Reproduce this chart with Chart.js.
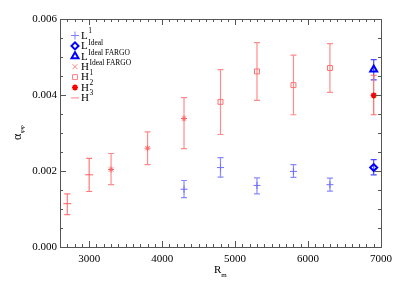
<!DOCTYPE html>
<html>
<head>
<meta charset="utf-8">
<script src="https://cdn.jsdelivr.net/npm/chart.js@4.4.1/dist/chart.umd.min.js"></script>
<style>
  html, body { margin: 0; padding: 0; background: #fff; }
  #wrap { width: 399px; height: 285px; }
</style>
</head>
<body>
<div id="wrap"><canvas id="graph" width="399" height="285"></canvas></div>
<script>
// L^1 runs
var l1X = [4300, 4800, 5300, 5800, 6300];
var l1Y = [0.00152, 0.00209, 0.00162, 0.00199, 0.00164];
var l1Lo = [0.00130, 0.00184, 0.00140, 0.00183, 0.00147];
var l1Hi = [0.00175, 0.00235, 0.00182, 0.00217, 0.00181];

// L ideal
var lIdX = [6900];
var lIdY = [0.00209];
var lIdLo = [0.00190];
var lIdHi = [0.00230];

// L ideal FARGO
var lFaX = [6900];
var lFaY = [0.00467];
var lFaLo = [0.00440];
var lFaHi = [0.00493];

// H ideal FARGO (pale stars)
var hFaX = [3300, 3800, 4300];
var hFaY = [0.00204, 0.00260, 0.00338];
var hFaLo = [0.00164, 0.00217, 0.00259];
var hFaHi = [0.00246, 0.00303, 0.00393];

// H^1
var h1X = [4800, 5300, 5800, 6300];
var h1Y = [0.00382, 0.00462, 0.00426, 0.00471];
var h1Lo = [0.00296, 0.00386, 0.00348, 0.00407];
var h1Hi = [0.00467, 0.00538, 0.00505, 0.00535];

// H^2
var h2X = [6900];
var h2Y = [0.00399];
var h2Lo = [0.00348];
var h2Hi = [0.00452];

// H^3
var h3X = [2700, 3000];
var h3Y = [0.00114, 0.00190];
var h3Lo = [0.00085, 0.00146];
var h3Hi = [0.00140, 0.00233];

var xMajor = [3000, 4000, 5000, 6000, 7000];
var yMajor = [0, 0.002, 0.004, 0.006];

var legendBase = ['L', 'L', 'L', 'H', 'H', 'H', 'H'];
var legendSuffix = ['1', 'Ideal', 'Ideal FARGO', 'Ideal FARGO', '1', '2', '3'];

function pts(xs, ys) {
	return xs.map((x, i) => ({ x: x, y: ys[i] }));
}

var serif = "'Liberation Serif', 'Times New Roman', Times, serif";
Chart.defaults.font.family = serif;
Chart.defaults.font.size = 11;
Chart.defaults.color = '#000';

const ctx = document.getElementById('graph').getContext('2d');

// legend symbols as seen in the figure
var legendSym = [
	{ style: 'cross', color: '#8080ff', r: 4, w: 1 },
	{ style: 'rectRot', color: '#0000ff', r: 3.5, w: 2 },
	{ style: 'triangle', color: '#0000ff', r: 4, w: 2 },
	{ style: 'crossRot', color: '#ff8080', r: 3.5, w: 1 },
	{ style: 'rect', color: '#ff8080', r: 3.5, w: 1 },
	{ style: 'star', color: '#ff0000', r: 3, w: 1.6 },
	{ style: 'line', color: '#ff8080', r: 4, w: 1 }
];

const decor = {
	id: 'decor',
	beforeDatasetsDraw(chart) {
		const c = chart.ctx;
		const xs = chart.scales.x, ys = chart.scales.y;
		chart.data.datasets.forEach(ds => {
			c.save();
			c.strokeStyle = ds.errColor;
			c.lineWidth = 1.2;
			ds.data.forEach((p, j) => {
				const px = xs.getPixelForValue(p.x);
				const yl = ys.getPixelForValue(ds.lo[j]);
				const yh = ys.getPixelForValue(ds.hi[j]);
				c.beginPath();
				c.moveTo(px, yl); c.lineTo(px, yh);
				c.moveTo(px - 3, yl); c.lineTo(px + 3, yl);
				c.moveTo(px - 3, yh); c.lineTo(px + 3, yh);
				c.stroke();
			});
			c.restore();
		});
	},
	afterDraw(chart) {
		const c = chart.ctx;
		const a = chart.chartArea;
		const xs = chart.scales.x, ys = chart.scales.y;
		c.save();
		c.strokeStyle = '#555';
		c.lineWidth = 1;
		c.strokeRect(a.left + 0.5, a.top + 0.5, a.right - a.left, a.bottom - a.top);

		// inward ticks, all four sides
		c.beginPath();
		for (var v = 2600; v <= 7000; v += 100) {
			var px = Math.round(xs.getPixelForValue(v)) + 0.5;
			var len = (v % 1000 === 0) ? 6 : 3;
			c.moveTo(px, a.bottom); c.lineTo(px, a.bottom - len);
			c.moveTo(px, a.top); c.lineTo(px, a.top + len);
		}
		for (var k = 0; k <= 12; k++) {
			var val = k * 0.0005;
			var py = Math.round(ys.getPixelForValue(val)) + 0.5;
			var l2 = (k % 4 === 0) ? 6 : 3;
			c.moveTo(a.left, py); c.lineTo(a.left + l2, py);
			c.moveTo(a.right, py); c.lineTo(a.right - l2, py);
		}
		c.stroke();

		// legend
		c.textBaseline = 'middle';
		c.textAlign = 'left';
		legendBase.forEach((b, i) => {
			var y = 35.5 + i * 10.4;
			var s = legendSym[i];
			c.strokeStyle = s.color;
			c.fillStyle = 'rgba(0,0,0,0)';
			c.lineWidth = s.w;
			Chart.helpers.drawPoint(c, { pointStyle: s.style, radius: s.r, borderWidth: s.w, rotation: 0 }, 75, y);
			c.fillStyle = '#000';
			c.font = '11px ' + serif;
			c.fillText(b, 81, y + 0.5);
			var bw = c.measureText(b).width;
			c.font = '7.5px ' + serif;
			var off = legendSuffix[i].length === 1 ? -4.5 : -3.3;
			c.fillText(legendSuffix[i], 81 + bw + 0.5, y + off);
		});

		// axis titles
		c.fillStyle = '#000';
		c.textBaseline = 'alphabetic';
		c.font = '11px ' + serif;
		c.fillText('R', 214, 273);
		var rw = c.measureText('R').width;
		c.font = '7px ' + serif;
		c.fillText('m', 214 + rw, 276.5);

		c.translate(21, 140);
		c.rotate(-Math.PI / 2);
		c.font = '12px ' + serif;
		c.fillText('\u03b1', 0, 0);
		var aw = c.measureText('\u03b1').width;
		c.font = '7px ' + serif;
		c.fillText('\u03c6\u03c6', aw + 0.5, 3);
		c.restore();
	}
};

var graph = new Chart(ctx, {
	type: 'scatter',
	data: {
		datasets: [{
			label: 'L1',
			data: pts(l1X, l1Y), lo: l1Lo, hi: l1Hi,
			pointStyle: 'cross', pointRadius: 3.5, borderWidth: 1,
			borderColor: '#7070ff', backgroundColor: 'transparent', errColor: '#8a8aff'
		},
		{
			label: 'L Ideal',
			data: pts(lIdX, lIdY), lo: lIdLo, hi: lIdHi,
			pointStyle: 'rectRot', pointRadius: 3.5, borderWidth: 2,
			borderColor: '#0000ff', backgroundColor: 'transparent', errColor: '#4a4aff'
		},
		{
			label: 'L Ideal FARGO',
			data: pts(lFaX, lFaY), lo: lFaLo, hi: lFaHi,
			pointStyle: 'triangle', pointRadius: 4, borderWidth: 2,
			borderColor: '#0000ff', backgroundColor: 'transparent', errColor: '#4a4aff'
		},
		{
			label: 'H Ideal FARGO',
			data: pts(hFaX, hFaY), lo: hFaLo, hi: hFaHi,
			pointStyle: 'star', pointRadius: 3, borderWidth: 1,
			borderColor: '#ff6060', backgroundColor: 'transparent', errColor: '#ff8c8c'
		},
		{
			label: 'H1',
			data: pts(h1X, h1Y), lo: h1Lo, hi: h1Hi,
			pointStyle: 'rect', pointRadius: 3.5, borderWidth: 1,
			borderColor: '#ff7070', backgroundColor: 'transparent', errColor: '#ff8c8c'
		},
		{
			label: 'H2',
			data: pts(h2X, h2Y), lo: h2Lo, hi: h2Hi,
			pointStyle: 'star', pointRadius: 3, borderWidth: 1.6,
			borderColor: '#ff0000', backgroundColor: 'transparent', errColor: '#ff6a6a'
		},
		{
			label: 'H3',
			data: pts(h3X, h3Y), lo: h3Lo, hi: h3Hi,
			pointStyle: 'line', pointRadius: 4, borderWidth: 1,
			borderColor: '#ff6060', backgroundColor: 'transparent', errColor: '#ff7a7a'
		}]
	},
	options: {
		animation: false,
		responsive: false,
		layout: { padding: { top: 19, right: 18, left: 0, bottom: 0 } },
		plugins: {
			legend: { display: false },
			tooltip: { enabled: false }
		},
		scales: {
			x: {
				type: 'linear',
				min: 2600, max: 7000,
				grid: { display: false, drawTicks: false },
				border: { display: false },
				ticks: { padding: 6, maxRotation: 0, callback: v => String(v) },
				afterBuildTicks: s => { s.ticks = xMajor.map(v => ({ value: v })); },
				afterFit: s => { s.height = 38; }
			},
			y: {
				min: 0, max: 0.006,
				grid: { display: false, drawTicks: false },
				border: { display: false },
				ticks: { padding: 3, callback: v => v.toFixed(3) },
				afterBuildTicks: s => { s.ticks = yMajor.map(v => ({ value: v })); },
				afterFit: s => { s.width = 60; }
			}
		}
	},
	plugins: [decor]
});
</script>
</body>
</html>
